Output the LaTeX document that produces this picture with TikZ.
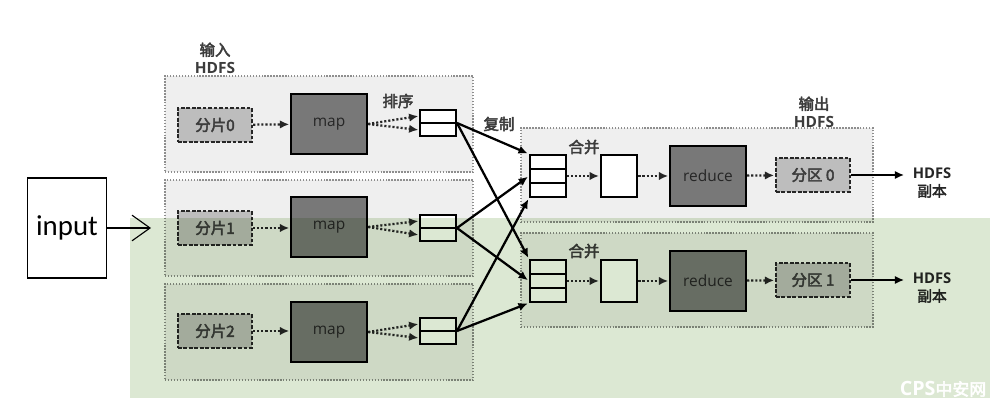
\documentclass[tikz,border=0pt]{standalone}
\usepackage{fontspec}
\newfontfamily\cjk{Noto Sans CJK SC}[FakeBold=3]
\newfontfamily\lat{Open Sans}
\newfontfamily\inp{Carlito}
\usetikzlibrary{arrows.meta,calc,positioning}
\definecolor{grpfill}{HTML}{EFEFEF}
\definecolor{grpline}{HTML}{8E8E8E}
\definecolor{splitfill}{HTML}{BDBDBD}
\definecolor{mapfill}{HTML}{787878}
\definecolor{txtgray}{HTML}{3C3C3C}
\definecolor{tintgreen}{RGB}{220,232,211}
\newcommand{\hdfs}{{\lat\bfseries HDFS}}

\begin{document}
\begin{tikzpicture}[x=0.025cm,y=-0.025cm,>={Latex[length=2.3mm,width=2.1mm]},
    grp/.style={draw=grpline,line width=0.9pt,dash pattern=on 1pt off 1.1pt,fill=grpfill,minimum width=7.7cm,minimum height=2.4cm},
    rgrp/.style={grp,minimum width=8.8cm,minimum height=2.35cm},
    lbl/.style={font=\cjk\fontsize{11}{12.5}\selectfont,text=txtgray,inner sep=1pt,align=center},
    splitbox/.style={draw=black!85,line width=1.7pt,dash pattern=on 2.6pt off 1.3pt,fill=splitfill,minimum width=1.85cm,minimum height=0.85cm,inner sep=0pt,font=\cjk\fontsize{11}{12}\selectfont,text=txtgray},
    mapbox/.style={draw=black,line width=1.6pt,fill=mapfill,minimum width=1.9cm,minimum height=1.5cm,inner sep=0pt,font=\lat\fontsize{11}{11}\selectfont,text=black!85},
    buf/.style={draw,line width=1.4pt,fill=white,minimum width=0.9cm,minimum height=0.65cm,inner sep=0pt,
      path picture={\draw[line width=1.4pt] (path picture bounding box.west) -- (path picture bounding box.east);}},
    mrg/.style={draw,line width=1.4pt,fill=white,minimum width=0.9cm,minimum height=1.05cm,inner sep=0pt,
      path picture={
        \draw[line width=1.4pt] ($(path picture bounding box.north west)!1/3!(path picture bounding box.south west)$) -- ($(path picture bounding box.north east)!1/3!(path picture bounding box.south east)$);
        \draw[line width=1.4pt] ($(path picture bounding box.north west)!2/3!(path picture bounding box.south west)$) -- ($(path picture bounding box.north east)!2/3!(path picture bounding box.south east)$);}},
    midbox/.style={draw,line width=1.4pt,fill=white,minimum width=0.92cm,minimum height=1.05cm,inner sep=0pt},
    dotarr/.style={->,draw=black!85,line width=1.6pt,dash pattern=on 1.5pt off 1.4pt,shorten >=0.5pt},
    cparr/.style={->,line width=1.6pt,shorten >=1pt},
    outarr/.style={->,line width=1.7pt,shorten >=5pt}]
\useasboundingbox (0,0) rectangle (999,411);

% map side
\node[grp] (g0) at (319,124) {};
\node[grp] (g1) at (319,228) {};
\node[grp] (g2) at (319,332) {};
\node[lbl] (inhdfs) at (215,58) {输入\\\hdfs};

\node[draw,line width=0.9pt,minimum width=1.975cm,minimum height=2.5cm,font=\inp\fontsize{20.5}{20}\selectfont] (in) at (67,228) {input};
\coordinate (inend) at (151,228);
\draw[line width=0.8pt,-{Straight Barb[length=4.5mm,width=6.4mm,line width=0.8pt]}] (in) -- (inend);

\node[splitbox] (s0) at (215,125) {分片0};
\node[splitbox] (s1) at (215,228) {分片1};
\node[splitbox] (s2) at (215,331) {分片2};
\node[mapbox] (m0) at (329,124) {map};
\node[mapbox] (m1) at (329,227) {map};
\node[mapbox] (m2) at (329,332) {map};
\node[buf] (b0) at (438,123) {};
\node[buf] (b1) at (438,228) {};
\node[buf] (b2) at (438,331) {};
\node[lbl] (sort) at (398,101) {排序};

\draw[dotarr] (s0) -- (m0);
\draw[dotarr] (s1) -- (s1 -| m1.west);
\draw[dotarr] (s2) -- (s2 -| m2.west);
\draw[dotarr] (m0.east) -- ($(b0.west)!0.5!(b0.north west)$);
\draw[dotarr] (m0.east) -- ($(b0.west)!0.5!(b0.south west)$);
\draw[dotarr] (m1.east) -- ($(b1.west)!0.5!(b1.north west)$);
\draw[dotarr] (m1.east) -- ($(b1.west)!0.5!(b1.south west)$);
\draw[dotarr] (m2.east) -- ($(b2.west)!0.5!(b2.north west)$);
\draw[dotarr] (m2.east) -- ($(b2.west)!0.5!(b2.south west)$);

% reduce side
\node[rgrp] (r0) at (697,175) {};
\node[rgrp] (r1) at (697,280) {};
\node[lbl] (outhdfs) at (814,112) {输出\\\hdfs};
\node[lbl] (copy) at (499,124) {复制};
\node[lbl] (merge0) at (584,147) {合并};
\node[lbl] (merge1) at (584,251) {合并};

\node[mrg] (c0) at (548,176) {};
\node[mrg] (c1) at (548,281) {};
\node[midbox] (k0) at (619,176) {};
\node[midbox] (k1) at (619,281) {};
\node[mapbox] (red0) at (708,176) {reduce};
\node[mapbox] (red1) at (708,281) {reduce};
\node[splitbox] (p0) at (813,175) {分区 0};
\node[splitbox] (p1) at (813,280) {分区 1};
\node[lbl,font=\cjk\fontsize{10.5}{12.5}\selectfont,text=black!85] (o0) at (932,183) {\hdfs\\副本};
\node[lbl,font=\cjk\fontsize{10.5}{12.5}\selectfont,text=black!85] (o1) at (932,288) {\hdfs\\副本};

\draw[cparr] (b0.east) -- (c0.north west);
\draw[cparr] (b0.east) -- (c1.north west);
\draw[cparr] (b1.east) -- (c0.west);
\draw[cparr] (b1.east) -- (c1.west);
\draw[cparr] (b2.east) -- (c0.south west);
\draw[cparr] (b2.east) -- (c1.south west);

\draw[dotarr] (c0) -- (k0);
\draw[dotarr] (k0) -- (red0);
\draw[dotarr] (red0) -- (p0);
\draw[dotarr] (c1) -- (k1);
\draw[dotarr] (k1) -- (red1);
\draw[dotarr] (red1) -- (p1);
\draw[outarr] (p0) -- (p0 -| o0.west);
\draw[outarr] (p1) -- (p1 -| o1.west);

% green tint over the lower part
\begin{scope}[blend mode=multiply]
  \fill[tintgreen] (130,218) rectangle (990,398);
\end{scope}
\node[text=white,inner sep=0pt] (wm) at (943,389) {{\lat\bfseries\fontsize{14}{14}\selectfont CPS}{\cjk\fontsize{12}{12}\selectfont 中安网}};
\end{tikzpicture}
\end{document}
